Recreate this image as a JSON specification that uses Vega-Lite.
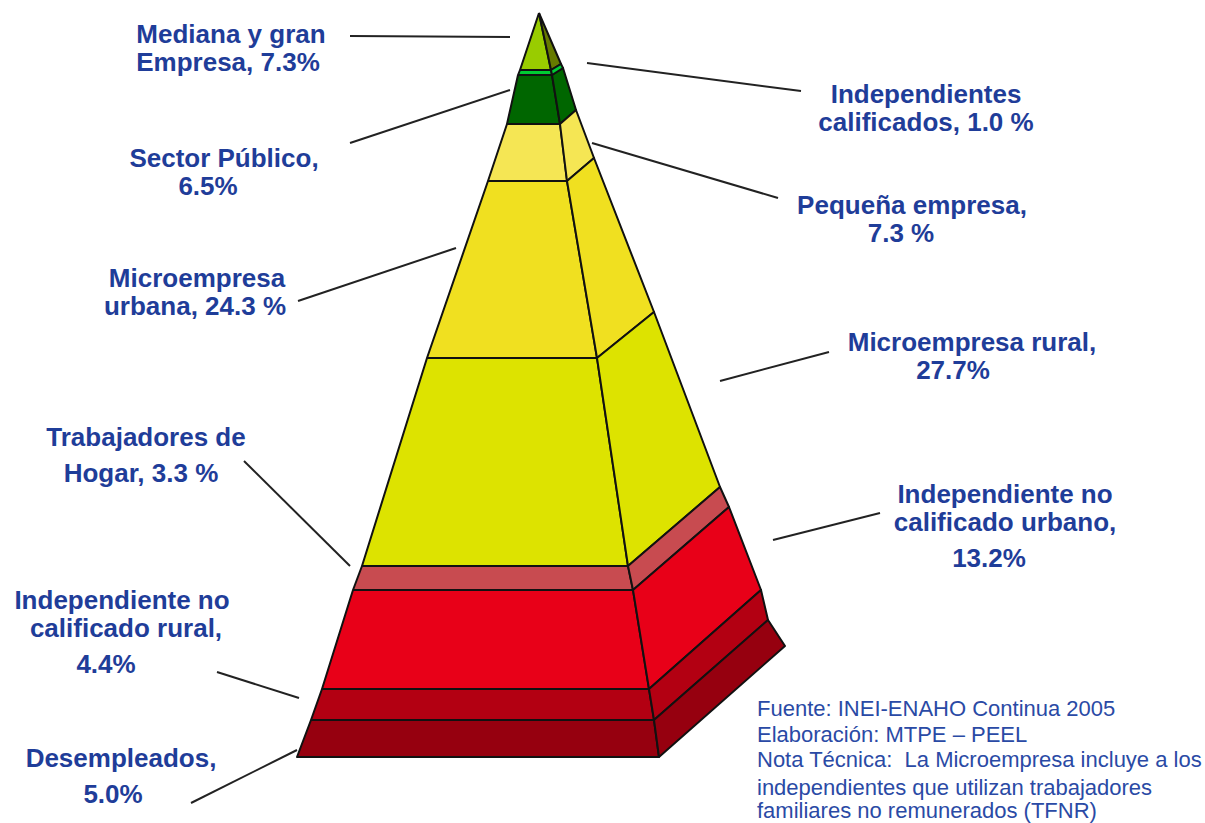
{"$schema":"https://vega.github.io/schema/vega-lite/v6.json","width":1205,"height":823,"padding":0,"autosize":{"type":"none"},"background":"white","view":{"stroke":null},
"datasets":{"caras":[
{"cara":"DG frente","n":1,"px":518,"py":75},{"cara":"DG frente","n":2,"px":507,"py":124},{"cara":"DG frente","n":3,"px":560,"py":124},{"cara":"DG frente","n":4,"px":552,"py":75},{"cara":"DG frente","n":5,"px":518,"py":75},
{"cara":"DG lado","n":1,"px":552,"py":75},{"cara":"DG lado","n":2,"px":560,"py":124},{"cara":"DG lado","n":3,"px":576,"py":110},{"cara":"DG lado","n":4,"px":563,"py":68},{"cara":"DG lado","n":5,"px":552,"py":75},
{"cara":"Mediana frente","n":1,"px":539,"py":13},{"cara":"Mediana frente","n":2,"px":520,"py":70},{"cara":"Mediana frente","n":3,"px":551,"py":70},{"cara":"Mediana frente","n":4,"px":539,"py":13},
{"cara":"Mediana lado","n":1,"px":539,"py":13},{"cara":"Mediana lado","n":2,"px":551,"py":70},{"cara":"Mediana lado","n":3,"px":561,"py":64},{"cara":"Mediana lado","n":4,"px":539,"py":13},
{"cara":"Indep frente","n":1,"px":520,"py":70},{"cara":"Indep frente","n":2,"px":518,"py":75},{"cara":"Indep frente","n":3,"px":552,"py":75},{"cara":"Indep frente","n":4,"px":551,"py":70},{"cara":"Indep frente","n":5,"px":520,"py":70},
{"cara":"Indep lado","n":1,"px":551,"py":70},{"cara":"Indep lado","n":2,"px":552,"py":75},{"cara":"Indep lado","n":3,"px":563,"py":68},{"cara":"Indep lado","n":4,"px":561,"py":64},{"cara":"Indep lado","n":5,"px":551,"py":70},
{"cara":"Pequena frente","n":1,"px":507,"py":124},{"cara":"Pequena frente","n":2,"px":488,"py":181},{"cara":"Pequena frente","n":3,"px":567,"py":181},{"cara":"Pequena frente","n":4,"px":560,"py":124},{"cara":"Pequena frente","n":5,"px":507,"py":124},
{"cara":"Pequena lado","n":1,"px":560,"py":124},{"cara":"Pequena lado","n":2,"px":567,"py":181},{"cara":"Pequena lado","n":3,"px":594,"py":158},{"cara":"Pequena lado","n":4,"px":576,"py":110},{"cara":"Pequena lado","n":5,"px":560,"py":124},
{"cara":"Urbana frente","n":1,"px":488,"py":181},{"cara":"Urbana frente","n":2,"px":427,"py":358},{"cara":"Urbana frente","n":3,"px":597,"py":358},{"cara":"Urbana frente","n":4,"px":567,"py":181},{"cara":"Urbana frente","n":5,"px":488,"py":181},
{"cara":"Urbana lado","n":1,"px":567,"py":181},{"cara":"Urbana lado","n":2,"px":597,"py":358},{"cara":"Urbana lado","n":3,"px":654,"py":312},{"cara":"Urbana lado","n":4,"px":594,"py":158},{"cara":"Urbana lado","n":5,"px":567,"py":181},
{"cara":"Rural frente","n":1,"px":427,"py":358},{"cara":"Rural frente","n":2,"px":362,"py":566},{"cara":"Rural frente","n":3,"px":628,"py":566},{"cara":"Rural frente","n":4,"px":597,"py":358},{"cara":"Rural frente","n":5,"px":427,"py":358},
{"cara":"Rural lado","n":1,"px":597,"py":358},{"cara":"Rural lado","n":2,"px":628,"py":566},{"cara":"Rural lado","n":3,"px":720,"py":487},{"cara":"Rural lado","n":4,"px":654,"py":312},{"cara":"Rural lado","n":5,"px":597,"py":358},
{"cara":"Hogar frente","n":1,"px":362,"py":566},{"cara":"Hogar frente","n":2,"px":353,"py":590},{"cara":"Hogar frente","n":3,"px":633,"py":590},{"cara":"Hogar frente","n":4,"px":628,"py":566},{"cara":"Hogar frente","n":5,"px":362,"py":566},
{"cara":"Hogar lado","n":1,"px":628,"py":566},{"cara":"Hogar lado","n":2,"px":633,"py":590},{"cara":"Hogar lado","n":3,"px":729,"py":507},{"cara":"Hogar lado","n":4,"px":720,"py":487},{"cara":"Hogar lado","n":5,"px":628,"py":566},
{"cara":"NoCalUrb frente","n":1,"px":353,"py":590},{"cara":"NoCalUrb frente","n":2,"px":322,"py":689},{"cara":"NoCalUrb frente","n":3,"px":649,"py":689},{"cara":"NoCalUrb frente","n":4,"px":633,"py":590},{"cara":"NoCalUrb frente","n":5,"px":353,"py":590},
{"cara":"NoCalUrb lado","n":1,"px":633,"py":590},{"cara":"NoCalUrb lado","n":2,"px":649,"py":689},{"cara":"NoCalUrb lado","n":3,"px":761,"py":590},{"cara":"NoCalUrb lado","n":4,"px":729,"py":507},{"cara":"NoCalUrb lado","n":5,"px":633,"py":590},
{"cara":"NoCalRur frente","n":1,"px":322,"py":689},{"cara":"NoCalRur frente","n":2,"px":311,"py":720},{"cara":"NoCalRur frente","n":3,"px":654,"py":720},{"cara":"NoCalRur frente","n":4,"px":649,"py":689},{"cara":"NoCalRur frente","n":5,"px":322,"py":689},
{"cara":"NoCalRur lado","n":1,"px":649,"py":689},{"cara":"NoCalRur lado","n":2,"px":654,"py":720},{"cara":"NoCalRur lado","n":3,"px":768,"py":620},{"cara":"NoCalRur lado","n":4,"px":761,"py":590},{"cara":"NoCalRur lado","n":5,"px":649,"py":689},
{"cara":"Desemp frente","n":1,"px":311,"py":720},{"cara":"Desemp frente","n":2,"px":297,"py":757},{"cara":"Desemp frente","n":3,"px":659,"py":757},{"cara":"Desemp frente","n":4,"px":654,"py":720},{"cara":"Desemp frente","n":5,"px":311,"py":720},
{"cara":"Desemp lado","n":1,"px":654,"py":720},{"cara":"Desemp lado","n":2,"px":659,"py":757},{"cara":"Desemp lado","n":3,"px":785,"py":646},{"cara":"Desemp lado","n":4,"px":768,"py":620},{"cara":"Desemp lado","n":5,"px":654,"py":720}
],
"guias":[
{"g":"a","n":1,"px":350,"py":36},{"g":"a","n":2,"px":510,"py":37},
{"g":"b","n":1,"px":587,"py":63},{"g":"b","n":2,"px":801,"py":91},
{"g":"c","n":1,"px":350,"py":143},{"g":"c","n":2,"px":510,"py":90},
{"g":"d","n":1,"px":592,"py":143},{"g":"d","n":2,"px":778,"py":198},
{"g":"e","n":1,"px":298,"py":301},{"g":"e","n":2,"px":456,"py":248},
{"g":"f","n":1,"px":720,"py":381},{"g":"f","n":2,"px":829,"py":352},
{"g":"h","n":1,"px":244,"py":461},{"g":"h","n":2,"px":350,"py":566},
{"g":"i","n":1,"px":773,"py":540},{"g":"i","n":2,"px":880,"py":513},
{"g":"j","n":1,"px":217,"py":672},{"g":"j","n":2,"px":299,"py":698},
{"g":"k","n":1,"px":191,"py":803},{"g":"k","n":2,"px":297,"py":750}
],
"rotulos":[
{"t":"Mediana y gran","px":231,"py":35},{"t":"Empresa, 7.3%","px":228,"py":63},
{"t":"Independientes","px":926,"py":95},{"t":"calificados, 1.0 %","px":926,"py":123},
{"t":"Sector Público,","px":224,"py":159},{"t":"6.5%","px":208,"py":187},
{"t":"Pequeña empresa,","px":912,"py":206},{"t":"7.3 %","px":901,"py":234},
{"t":"Microempresa","px":197,"py":279},{"t":"urbana, 24.3 %","px":195,"py":307},
{"t":"Microempresa rural,","px":972,"py":343},{"t":"27.7%","px":953,"py":371},
{"t":"Trabajadores de","px":146,"py":438},{"t":"Hogar, 3.3 %","px":141,"py":474},
{"t":"Independiente no","px":1005,"py":495},{"t":"calificado urbano,","px":1005,"py":523},{"t":"13.2%","px":989,"py":559},
{"t":"Independiente no","px":122,"py":601},{"t":"calificado rural,","px":126,"py":629},{"t":"4.4%","px":106,"py":665},
{"t":"Desempleados,","px":121,"py":759},{"t":"5.0%","px":113,"py":795}
],
"notas":[
{"t":"Fuente: INEI-ENAHO Continua 2005","px":757,"py":709},
{"t":"Elaboración: MTPE – PEEL","px":757,"py":735},
{"t":"Nota Técnica:\u00a0 La Microempresa incluye a los","px":757,"py":760},
{"t":"independientes que utilizan trabajadores","px":757,"py":788},
{"t":"familiares no remunerados (TFNR)","px":757,"py":811}
]},
"encoding":{
"x":{"field":"px","type":"quantitative","scale":{"domain":[0,1205],"range":[0,1205]},"axis":null},
"y":{"field":"py","type":"quantitative","scale":{"domain":[823,0],"range":[823,0]},"axis":null}
},
"layer":[
{"data":{"name":"guias"},"mark":{"type":"line","stroke":"#222222","strokeWidth":2,"interpolate":"linear"},"encoding":{"detail":{"field":"g"},"order":{"field":"n"}}},
{"data":{"name":"caras"},"mark":{"type":"line","stroke":"#111111","strokeWidth":2,"interpolate":"linear","strokeJoin":"round"},"encoding":{"detail":{"field":"cara"},"order":{"field":"n"},
"fill":{"field":"cara","type":"nominal","legend":null,"scale":{
"domain":["Mediana frente","Mediana lado","Indep frente","Indep lado","DG frente","DG lado","Pequena frente","Pequena lado","Urbana frente","Urbana lado","Rural frente","Rural lado","Hogar frente","Hogar lado","NoCalUrb frente","NoCalUrb lado","NoCalRur frente","NoCalRur lado","Desemp frente","Desemp lado"],
"range":["#99CC00","#667A00","#00CC33","#00CC33","#006600","#006600","#F5E654","#F5E654","#F0E020","#F0E020","#DDE300","#DDE300","#C84B50","#C84B50","#E80018","#E80018","#B30012","#B30012","#96000F","#96000F"]}}}},
{"data":{"name":"rotulos"},"mark":{"type":"text","font":"Liberation Sans","fontWeight":"bold","fontSize":26,"align":"center","baseline":"middle","fill":"#1F3D99"},"encoding":{"text":{"field":"t"}}},
{"data":{"name":"notas"},"mark":{"type":"text","font":"Liberation Sans","fontSize":22,"align":"left","baseline":"middle","fill":"#2A4AA5"},"encoding":{"text":{"field":"t"}}}
]}
